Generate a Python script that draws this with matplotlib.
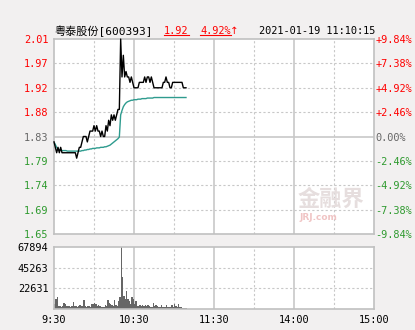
import matplotlib
matplotlib.use("Agg")
import matplotlib.pyplot as plt
from matplotlib.lines import Line2D
from matplotlib.transforms import IdentityTransform

plt.rcParams['font.family'] = ['DejaVu Sans Mono', 'Noto Sans CJK SC']

# ---- data ----
stock_name = "粤泰股份[600393]"
last_price = "1.92"
change_pct = "4.92%"
timestamp = "2021-01-19 11:10:15"

# one value per minute from 9:30 to 11:09
price = [1.82, 1.81, 1.80, 1.81, 1.80, 1.81, 1.80, 1.80, 1.80, 1.80,
         1.80, 1.80, 1.80, 1.80, 1.80, 1.80, 1.80, 1.79, 1.80, 1.81,
         1.81, 1.82, 1.83, 1.83, 1.83, 1.82, 1.83, 1.84, 1.84, 1.84,
         1.85, 1.84, 1.85, 1.84, 1.84, 1.83, 1.84, 1.83, 1.83, 1.85,
         1.84, 1.86, 1.85, 1.87, 1.86, 1.87, 1.86, 1.87, 1.88, 1.88,
         2.01, 1.94, 1.98, 1.94, 1.95, 1.94, 1.94, 1.93, 1.94, 1.93,
         1.92, 1.92, 1.92, 1.92, 1.93, 1.93, 1.93, 1.93, 1.94, 1.93,
         1.94, 1.94, 1.93, 1.94, 1.93, 1.92, 1.92, 1.92, 1.92, 1.92,
         1.92, 1.92, 1.93, 1.93, 1.94, 1.93, 1.93, 1.92, 1.92, 1.93,
         1.93, 1.93, 1.93, 1.93, 1.93, 1.93, 1.93, 1.92, 1.92, 1.92]

avg_price = [1.820, 1.815, 1.810, 1.807, 1.805, 1.805, 1.804, 1.804, 1.804, 1.804,
             1.803, 1.803, 1.803, 1.803, 1.803, 1.803, 1.803, 1.803, 1.803, 1.803,
             1.803, 1.804, 1.804, 1.805, 1.805, 1.806, 1.806, 1.807, 1.807, 1.808,
             1.808, 1.808, 1.809, 1.809, 1.809, 1.810, 1.810, 1.810, 1.811, 1.811,
             1.812, 1.813, 1.814, 1.816, 1.818, 1.820, 1.822, 1.824, 1.826, 1.829,
             1.870, 1.878, 1.885, 1.889, 1.892, 1.894, 1.895, 1.896, 1.897, 1.897,
             1.898, 1.898, 1.898, 1.899, 1.899, 1.899, 1.900, 1.900, 1.900, 1.900,
             1.901, 1.901, 1.901, 1.901, 1.901, 1.902, 1.902, 1.902, 1.902, 1.902,
             1.902, 1.902, 1.902, 1.902, 1.902, 1.902, 1.902, 1.902, 1.902, 1.902,
             1.902, 1.902, 1.902, 1.902, 1.902, 1.902, 1.902, 1.902, 1.902, 1.902]

volume = [5500, 11000, 13000, 3300, 3300, 2200, 3300, 6600, 5500, 3300,
          3300, 3300, 2200, 3300, 7700, 3300, 3300, 2200, 3300, 4400,
          3300, 3300, 9900, 3300, 2200, 3300, 3300, 2200, 5500, 5500,
          6600, 5500, 3300, 4400, 3300, 2200, 2200, 2200, 4400, 3300,
          9900, 6600, 5500, 4400, 3300, 9900, 4400, 3300, 8800, 13200,
          67894, 35000, 14300, 11000, 19800, 11000, 8800, 5500, 13200, 11000,
          5500, 8800, 3300, 3300, 4400, 3300, 4400, 3300, 4400, 3300,
          4400, 3300, 2200, 2200, 6600, 3300, 4400, 3300, 2200, 2200,
          4400, 2200, 2200, 2200, 4400, 2200, 2200, 2200, 4400, 2200,
          5500, 3300, 2200, 5500, 2200, 2200, 1100, 1100, 1100, 1100]

price_ticks = [1.6499, 1.695, 1.74, 1.785, 1.83, 1.875, 1.92, 1.965, 2.0101]
price_labels = ["1.65", "1.69", "1.74", "1.79", "1.83", "1.88", "1.92", "1.97", "2.01"]
pct_labels = ["-9.84%", "-7.38%", "-4.92%", "-2.46%", "0.00%",
              "+2.46%", "+4.92%", "+7.38%", "+9.84%"]
vol_ticks = [22631, 45263, 67894]
time_ticks = [0, 60, 120, 180, 240]
time_labels = ["9:30", "10:30", "11:30", "14:00", "15:00"]

RED = "#ff0000"
GREEN = "#2f9a2f"
GRAY = "#666666"
GRID = "#c8c8c8"
BG = "#f2f0f0"


def label_color(i):
    if i > 4:
        return RED
    if i < 4:
        return GREEN
    return GRAY


def style_panel(ax):
    ax.set_facecolor("white")
    for s in ax.spines.values():
        s.set_color("#c0c0c0")
        s.set_linewidth(1.2)
    ax.set_xlim(0, 240)
    for m in range(30, 240, 30):
        if m % 60 == 0:
            ax.axvline(m, color="#c8c8c8", lw=1.2, zorder=0)
        else:
            ax.axvline(m, color=GRID, lw=0.8, ls=(0, (2, 2)), zorder=0)


fig = plt.figure(figsize=(4.15, 3.30), dpi=100, facecolor=BG)

# ---- price panel ----
ax = fig.add_axes([54 / 415, 96 / 330, 320 / 415, 195 / 330])
style_panel(ax)
ax.set_ylim(price_ticks[0], price_ticks[-1])
for i, t in enumerate(price_ticks[1:-1], start=1):
    if i == 4:
        ax.axhline(t, color="#c8c8c8", lw=1.2, zorder=0)
    else:
        ax.axhline(t, color=GRID, lw=0.8, ls=(0, (2, 2)), zorder=0)

minutes = list(range(len(price)))
ax.plot(minutes, avg_price, color="#2e9b8e", lw=1.0, zorder=2)
ax.plot(minutes, price, color="black", lw=1.0, zorder=3, clip_on=False)

ax.set_xticks([])
ax.set_yticks(price_ticks, price_labels)
ax.tick_params(axis="y", length=0, pad=4, labelsize=7.4)
for i, lab in enumerate(ax.get_yticklabels()):
    lab.set_color(label_color(i))

ax2 = ax.twinx()
ax2.set_ylim(ax.get_ylim())
ax2.set_yticks(price_ticks, pct_labels)
ax2.tick_params(axis="y", length=0, pad=1, labelsize=7.4)
for s in ax2.spines.values():
    s.set_visible(False)
for i, lab in enumerate(ax2.get_yticklabels()):
    lab.set_color(label_color(i))

# faint watermark
fig.text(331 / 415, 1 - 199 / 330, "金融界", fontsize=16, fontweight="bold",
         color="#e6dede", ha="center", va="center", family=["Noto Sans CJK SC"], zorder=1)
fig.text(318 / 415, 1 - 218 / 330, "JRJ.com", fontsize=6.5, fontweight="bold",
         color="#f0c4c4", ha="center", va="center", family=["DejaVu Sans"], zorder=1)

# ---- volume panel ----
axv = fig.add_axes([54 / 415, 21 / 330, 320 / 415, 62 / 330])
style_panel(axv)
axv.set_ylim(0, vol_ticks[-1])
for t in vol_ticks[:-1]:
    axv.axhline(t, color=GRID, lw=0.8, ls=(0, (2, 2)), zorder=0)
axv.bar([m + 0.5 for m in minutes], volume, width=0.8, color="#666666",
        linewidth=0, zorder=2)
axv.set_yticks(vol_ticks, [str(v) for v in vol_ticks])
axv.set_xticks(time_ticks, time_labels)
axv.tick_params(axis="both", length=0, labelsize=7.4, colors="black")
axv.tick_params(axis="y", pad=4)
axv.tick_params(axis="x", pad=4)

# ---- header ----
hy = 1 - 31 / 330
fig.text(54 / 415, hy, stock_name, fontsize=8, color="black", va="center", ha="left")
t1 = fig.text(164 / 415, hy, last_price, fontsize=7.4, color=RED, va="center", ha="left")
t2 = fig.text(200 / 415, hy, change_pct, fontsize=7.4, color=RED, va="center", ha="left")
fig.text(239 / 415, hy, "↑", fontsize=7.4, color=RED, va="center", ha="right",
         family=["DejaVu Sans"])
fig.text(375 / 415, hy, timestamp, fontsize=7.4, color="black", va="center", ha="right")

fig.canvas.draw()
for t in (t1, t2):
    bb = t.get_window_extent()
    fig.add_artist(Line2D([bb.x0, bb.x1], [bb.y0 + 1.5, bb.y0 + 1.5], color=RED,
                          lw=0.8, transform=IdentityTransform()))

fig.savefig("out.png", dpi=100, facecolor=BG)
